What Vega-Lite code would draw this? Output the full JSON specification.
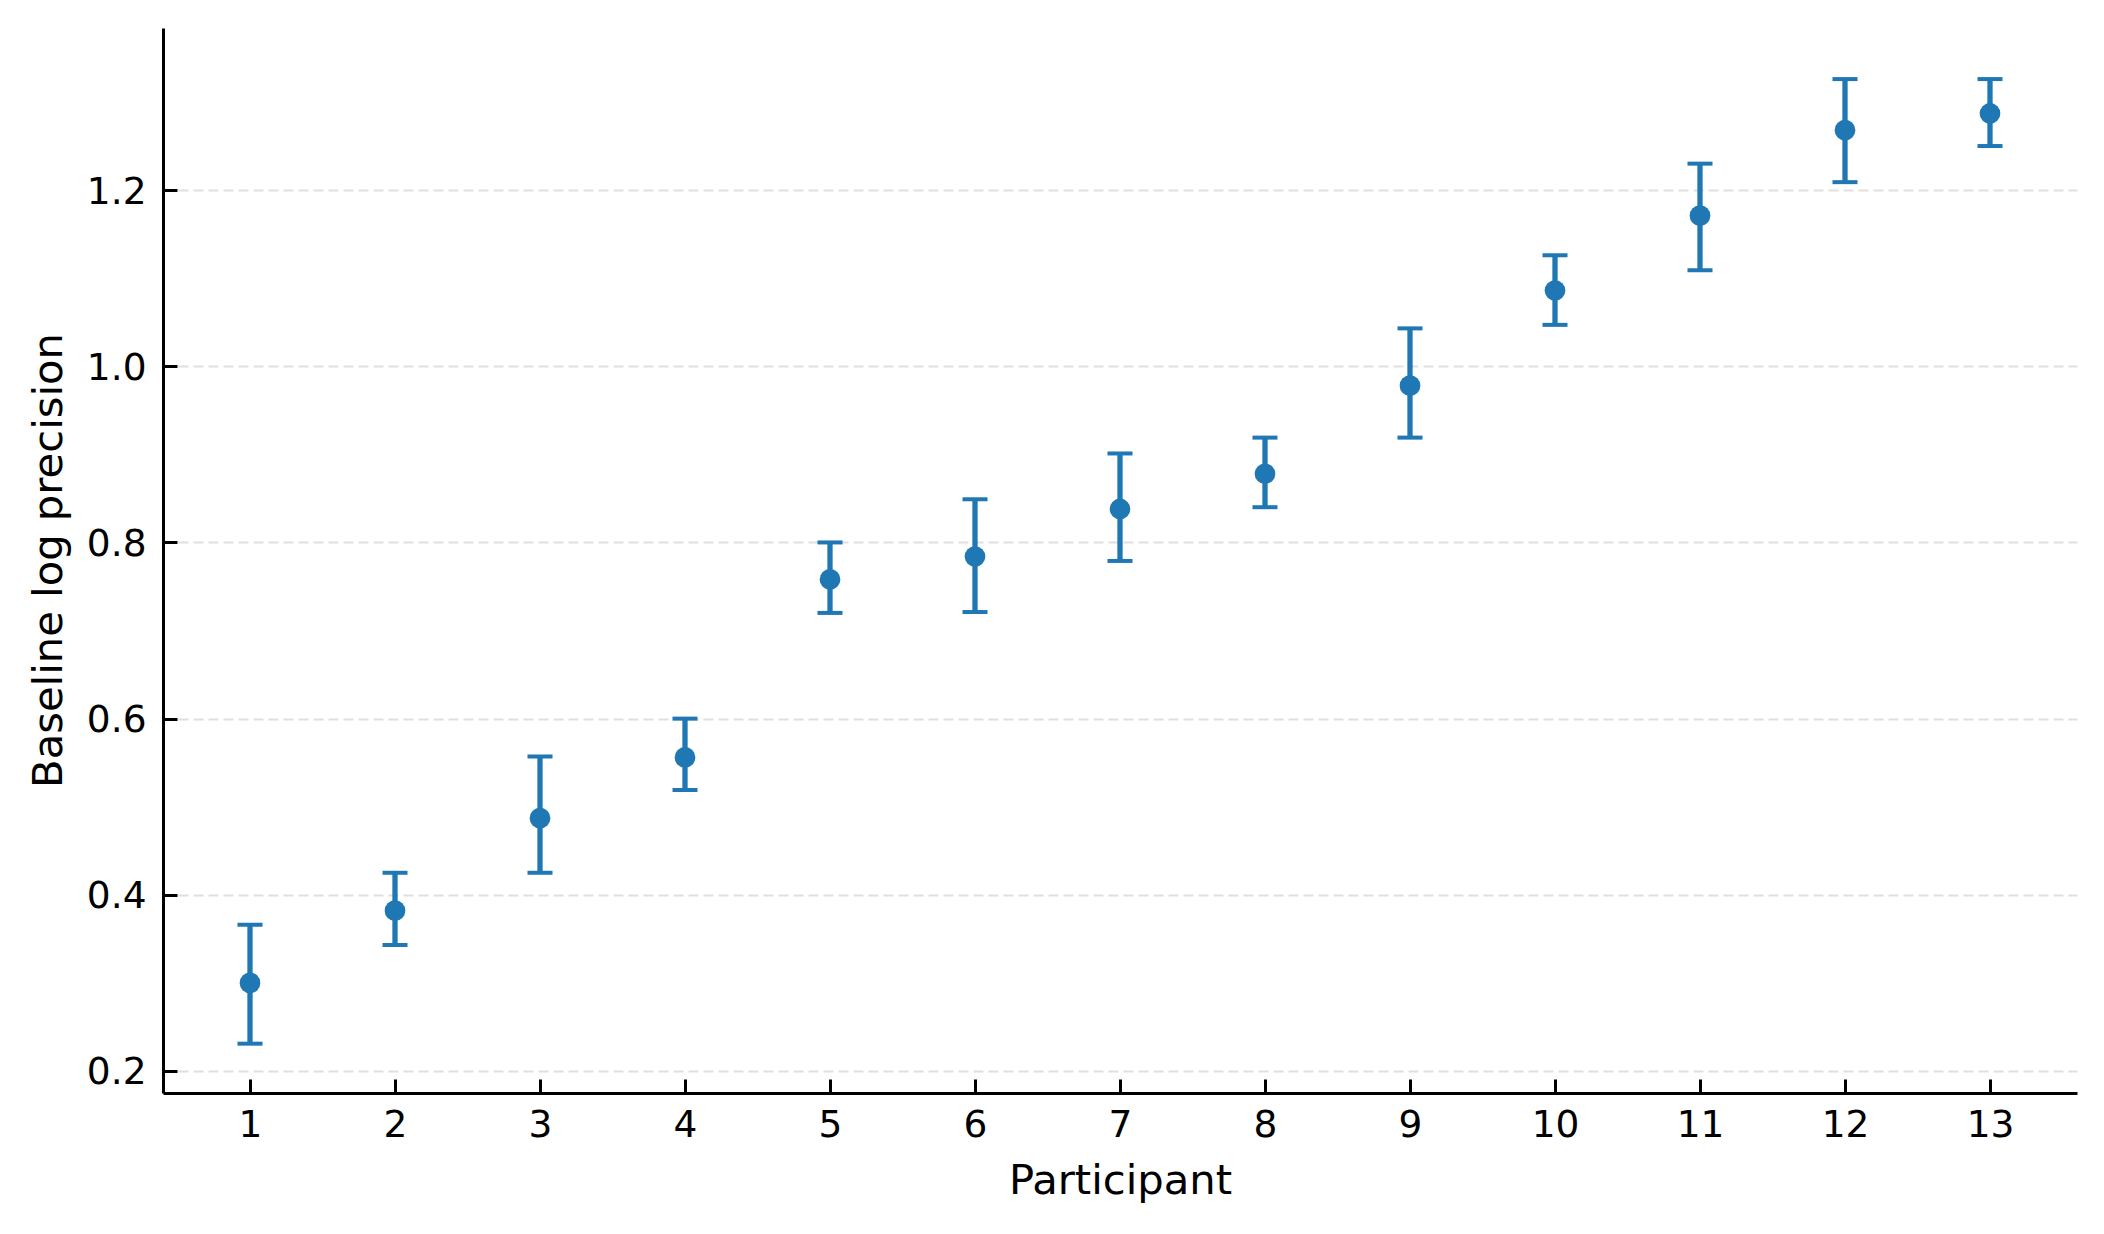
{
  "$schema": "https://vega.github.io/schema/vega-lite/v6.json",
  "autosize": "none",
  "width": 1914,
  "height": 1065,
  "padding": {"left": 163, "top": 28, "right": 27, "bottom": 141},
  "background": "white",
  "data": {
    "values": [
      {"participant": 1, "mean": 0.300, "lo": 0.231, "hi": 0.366},
      {"participant": 2, "mean": 0.382, "lo": 0.343, "hi": 0.425},
      {"participant": 3, "mean": 0.487, "lo": 0.425, "hi": 0.557},
      {"participant": 4, "mean": 0.556, "lo": 0.519, "hi": 0.600},
      {"participant": 5, "mean": 0.758, "lo": 0.720, "hi": 0.800},
      {"participant": 6, "mean": 0.784, "lo": 0.721, "hi": 0.849},
      {"participant": 7, "mean": 0.838, "lo": 0.779, "hi": 0.901},
      {"participant": 8, "mean": 0.878, "lo": 0.840, "hi": 0.919},
      {"participant": 9, "mean": 0.978, "lo": 0.919, "hi": 1.043},
      {"participant": 10, "mean": 1.086, "lo": 1.047, "hi": 1.126},
      {"participant": 11, "mean": 1.171, "lo": 1.109, "hi": 1.230},
      {"participant": 12, "mean": 1.268, "lo": 1.209, "hi": 1.326},
      {"participant": 13, "mean": 1.287, "lo": 1.250, "hi": 1.326}
    ]
  },
  "encoding": {
    "x": {
      "field": "participant",
      "type": "quantitative",
      "scale": {"domain": [0.4, 13.6], "nice": false, "zero": false},
      "axis": {
        "title": "Participant",
        "values": [1, 2, 3, 4, 5, 6, 7, 8, 9, 10, 11, 12, 13],
        "format": "d",
        "grid": false,
        "labelBaseline": "alphabetic",
        "labelPadding": 57,
        "titleX": 957,
        "titleY": 100,
        "titleBaseline": "alphabetic"
      }
    }
  },
  "layer": [
    {
      "mark": {"type": "rule", "color": "#1f77b4", "strokeWidth": 5.3},
      "encoding": {
        "y": {
          "field": "lo",
          "type": "quantitative",
          "scale": {"domain": [0.175, 1.384], "nice": false, "zero": false},
          "axis": {
            "title": "Baseline log precision",
            "values": [0.2, 0.4, 0.6, 0.8, 1.0, 1.2],
            "format": ".1f",
            "grid": true,
            "gridColor": "#e0e0e0",
            "gridWidth": 2,
            "gridDash": [10, 5],
            "labelPadding": 31,
            "labelOffset": 2,
            "titleAngle": -90,
            "titleX": -102,
            "titleY": 532,
            "titleAlign": "center",
            "titleBaseline": "alphabetic"
          }
        },
        "y2": {"field": "hi"}
      }
    },
    {
      "mark": {"type": "tick", "orient": "horizontal", "color": "#1f77b4", "size": 25, "thickness": 4, "opacity": 1},
      "encoding": {"y": {"field": "lo", "type": "quantitative"}}
    },
    {
      "mark": {"type": "tick", "orient": "horizontal", "color": "#1f77b4", "size": 25, "thickness": 4, "opacity": 1},
      "encoding": {"y": {"field": "hi", "type": "quantitative"}}
    },
    {
      "mark": {"type": "circle", "color": "#1f77b4", "size": 428, "opacity": 1},
      "encoding": {"y": {"field": "mean", "type": "quantitative"}}
    }
  ],
  "config": {
    "view": {"stroke": null},
    "font": "DejaVu Sans",
    "axis": {
      "domainColor": "black",
      "domainWidth": 3,
      "tickColor": "black",
      "tickWidth": 3,
      "tickSize": -14,
      "labelColor": "black",
      "labelFont": "DejaVu Sans",
      "labelFontSize": 37.5,
      "titleColor": "black",
      "titleFont": "DejaVu Sans",
      "titleFontSize": 41.7,
      "titleFontWeight": "normal"
    }
  }
}
